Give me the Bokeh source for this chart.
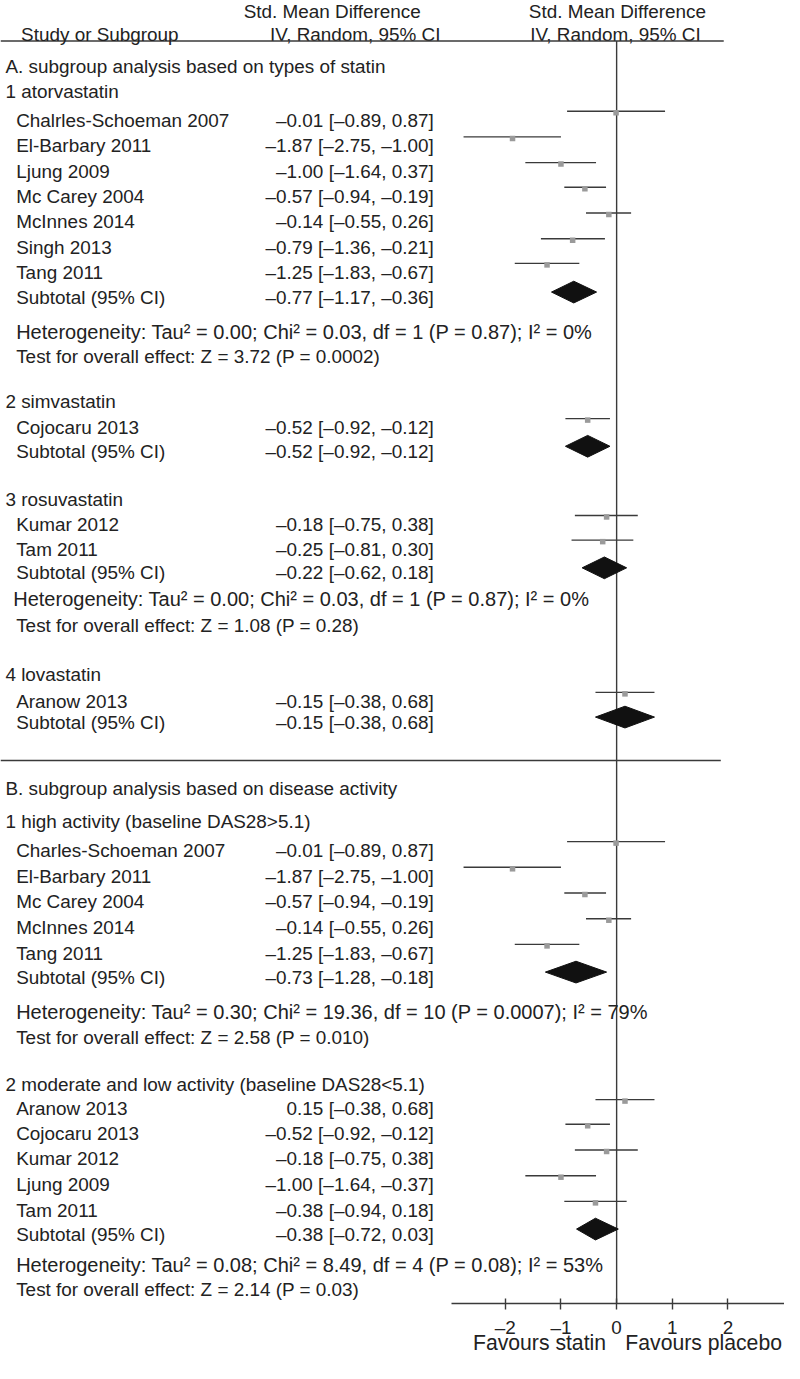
from bokeh.plotting import figure
from bokeh.models import Range1d, LinearAxis, FixedTicker, ColumnDataSource, CustomJSTickFormatter
from bokeh.embed import file_html
from bokeh.resources import INLINE
from bokeh.core.properties import value

# ---------------- data ----------------
sections = ["A. subgroup analysis based on types of statin",
            "B. subgroup analysis based on disease activity"]

g_titles = ["1 atorvastatin", "2 simvastatin", "3 rosuvastatin", "4 lovastatin",
            "1 high activity (baseline DAS28>5.1)", "2 moderate and low activity (baseline DAS28<5.1)"]

ator_names = ["Chalrles-Schoeman 2007", "El-Barbary 2011", "Ljung 2009", "Mc Carey 2004",
              "McInnes 2014", "Singh 2013", "Tang 2011"]
ator_est = [-0.01, -1.87, -1.00, -0.57, -0.14, -0.79, -1.25]
ator_lo = [-0.89, -2.75, -1.64, -0.94, -0.55, -1.36, -1.83]
ator_hi = [0.87, -1.00, -0.37, -0.19, 0.26, -0.21, -0.67]
ator_txt = ["–0.01 [–0.89, 0.87]", "–1.87 [–2.75, –1.00]", "–1.00 [–1.64, 0.37]",
            "–0.57 [–0.94, –0.19]", "–0.14 [–0.55, 0.26]", "–0.79 [–1.36, –0.21]",
            "–1.25 [–1.83, –0.67]"]

simv_names = ["Cojocaru 2013"]
simv_est = [-0.52]
simv_lo = [-0.92]
simv_hi = [-0.12]
simv_txt = ["–0.52 [–0.92, –0.12]"]

rosu_names = ["Kumar 2012", "Tam 2011"]
rosu_est = [-0.18, -0.25]
rosu_lo = [-0.75, -0.81]
rosu_hi = [0.38, 0.30]
rosu_txt = ["–0.18 [–0.75, 0.38]", "–0.25 [–0.81, 0.30]"]

lova_names = ["Aranow 2013"]
lova_est = [0.15]
lova_lo = [-0.38]
lova_hi = [0.68]
lova_txt = ["–0.15 [–0.38, 0.68]"]

high_names = ["Charles-Schoeman 2007", "El-Barbary 2011", "Mc Carey 2004", "McInnes 2014", "Tang 2011"]
high_est = [-0.01, -1.87, -0.57, -0.14, -1.25]
high_lo = [-0.89, -2.75, -0.94, -0.55, -1.83]
high_hi = [0.87, -1.00, -0.19, 0.26, -0.67]
high_txt = ["–0.01 [–0.89, 0.87]", "–1.87 [–2.75, –1.00]", "–0.57 [–0.94, –0.19]",
            "–0.14 [–0.55, 0.26]", "–1.25 [–1.83, –0.67]"]

mod_names = ["Aranow 2013", "Cojocaru 2013", "Kumar 2012", "Ljung 2009", "Tam 2011"]
mod_est = [0.15, -0.52, -0.18, -1.00, -0.38]
mod_lo = [-0.38, -0.92, -0.75, -1.64, -0.94]
mod_hi = [0.68, -0.12, 0.38, -0.37, 0.18]
mod_txt = ["0.15 [–0.38, 0.68]", "–0.52 [–0.92, –0.12]", "–0.18 [–0.75, 0.38]",
           "–1.00 [–1.64, –0.37]", "–0.38 [–0.94, 0.18]"]

sub_est = [-0.77, -0.52, -0.22, 0.15, -0.73, -0.38]
sub_lo = [-1.17, -0.92, -0.62, -0.38, -1.28, -0.72]
sub_hi = [-0.36, -0.12, 0.18, 0.68, -0.18, 0.03]
sub_txt = ["–0.77 [–1.17, –0.36]", "–0.52 [–0.92, –0.12]", "–0.22 [–0.62, 0.18]",
           "–0.15 [–0.38, 0.68]", "–0.73 [–1.28, –0.18]", "–0.38 [–0.72, 0.03]"]

het_txt = ["Heterogeneity: Tau² = 0.00; Chi² = 0.03, df = 1 (P = 0.87); I² = 0%", None,
           "Heterogeneity: Tau² = 0.00; Chi² = 0.03, df = 1 (P = 0.87); I² = 0%", None,
           "Heterogeneity: Tau² = 0.30; Chi² = 19.36, df = 10 (P = 0.0007); I² = 79%",
           "Heterogeneity: Tau² = 0.08; Chi² = 8.49, df = 4 (P = 0.08); I² = 53%"]
test_txt = ["Test for overall effect: Z = 3.72 (P = 0.0002)", None,
            "Test for overall effect: Z = 1.08 (P = 0.28)", None,
            "Test for overall effect: Z = 2.58 (P = 0.010)",
            "Test for overall effect: Z = 2.14 (P = 0.03)"]

tick_values = [-2, -1, 0, 1, 2]
favours = ["Favours statin", "Favours placebo"]
header_top = ["Std. Mean Difference", "Std. Mean Difference"]
header_bot = ["Study or Subgroup", "IV, Random, 95% CI", "IV, Random, 95% CI"]

groups = [
    (ator_names, ator_est, ator_lo, ator_hi, ator_txt),
    (simv_names, simv_est, simv_lo, simv_hi, simv_txt),
    (rosu_names, rosu_est, rosu_lo, rosu_hi, rosu_txt),
    (lova_names, lova_est, lova_lo, lova_hi, lova_txt),
    (high_names, high_est, high_lo, high_hi, high_txt),
    (mod_names, mod_est, mod_lo, mod_hi, mod_txt),
]

# ---------------- layout (reference pixel rows) ----------------
REF_W, REF_H = 800, 1379
W, H = 784, 1363
ZERO_PX, PX_UNIT = 628.7, 56.8


def dx(px):
    return (px - ZERO_PX) / PX_UNIT


sec_y = [67, 797]
g_title_y = [92, 406, 505, 682, 831, 1097]
g_rows_y = [[121, 147, 173, 198, 224, 250, 275], [432], [530, 555], [709],
            [860, 886, 912, 938, 964], [1121, 1146, 1172, 1198, 1224]]
g_sub_y = [300, 456, 579, 730, 988, 1248]
g_het_y = [335, None, 606, None, 1023, 1279]
g_het_x = [16, None, 13, None, 16, 16]
g_test_y = [360, None, 632, None, 1049, 1304]
AXIS_Y = 1318

FONT = value("Liberation Sans")
FS = value("18.9px")
FS_HET = value("20px")
TXT = "#222222"
LINE = "#3a3a3a"

p = figure(width=W, height=H, output_backend="svg", toolbar_location=None,
           x_range=Range1d(dx(0), dx(REF_W)), y_range=Range1d(REF_H, 0),
           x_axis_location=None, y_axis_location=None, min_border=0)
p.outline_line_color = None
p.xgrid.visible = False
p.ygrid.visible = False

lt_x, lt_y, lt_t = [], [], []      # left-aligned
rt_x, rt_y, rt_t = [], [], []      # right-aligned
ht_x, ht_y, ht_t = [], [], []      # heterogeneity lines
bars = dict(lo=[], hi=[], est=[], by=[], my=[])
dia_xs, dia_ys = [], []

for i, s in enumerate(sections):
    lt_x.append(dx(5)); lt_y.append(sec_y[i]); lt_t.append(s)

for gi, (names, est, lo, hi, txt) in enumerate(groups):
    lt_x.append(dx(5)); lt_y.append(g_title_y[gi]); lt_t.append(g_titles[gi])
    for k, nm in enumerate(names):
        y = g_rows_y[gi][k]
        lt_x.append(dx(16)); lt_y.append(y); lt_t.append(nm)
        rt_x.append(dx(442)); rt_y.append(y); rt_t.append(txt[k])
        bars["lo"].append(lo[k]); bars["hi"].append(hi[k]); bars["est"].append(est[k])
        bars["by"].append(y - 9); bars["my"].append(y - 7.5)
    ys = g_sub_y[gi]
    lt_x.append(dx(16)); lt_y.append(ys); lt_t.append("Subtotal (95% CI)")
    rt_x.append(dx(442)); rt_y.append(ys); rt_t.append(sub_txt[gi])
    cy = ys - 5
    dia_xs.append([sub_lo[gi], sub_est[gi], sub_hi[gi], sub_est[gi]])
    dia_ys.append([cy, cy - 11, cy, cy + 11])
    if het_txt[gi]:
        ht_x.append(dx(g_het_x[gi])); ht_y.append(g_het_y[gi]); ht_t.append(het_txt[gi])
        lt_x.append(dx(16)); lt_y.append(g_test_y[gi]); lt_t.append(test_txt[gi])

# header
lt_x.append(dx(21)); lt_y.append(34); lt_t.append(header_bot[0])
p.text(x=[dx(338.5), dx(629.5)], y=[11, 11], text=header_top, text_align="center",
       text_baseline="middle", text_font=FONT, text_font_size=FS, text_color=TXT)
p.text(x=[dx(362), dx(627.5)], y=[34, 34], text=header_bot[1:], text_align="center",
       text_baseline="middle", text_font=FONT, text_font_size=FS, text_color=TXT)

# rules
p.segment(x0=[dx(0), dx(0)], y0=[41, 769], x1=[dx(738), dx(735)], y1=[41, 769],
          line_color=LINE, line_width=1.5)
p.segment(x0=[0], y0=[41], x1=[0], y1=[AXIS_Y], line_color=LINE, line_width=1.4)

p.text(x=lt_x, y=lt_y, text=lt_t, text_align="left", text_baseline="middle",
       text_font=FONT, text_font_size=FS, text_color=TXT)
p.text(x=rt_x, y=rt_y, text=rt_t, text_align="right", text_baseline="middle",
       text_font=FONT, text_font_size=FS, text_color=TXT)
p.text(x=ht_x, y=ht_y, text=ht_t, text_align="left", text_baseline="middle",
       text_font=FONT, text_font_size=FS_HET, text_color=TXT)

src = ColumnDataSource(bars)
p.segment(x0="lo", y0="by", x1="hi", y1="by", source=src, line_color=LINE, line_width=1.4)
p.scatter(x="est", y="my", source=src, marker="square", size=5.5, fill_color="#9a9a9a",
          line_color=None)
p.patches(xs=dia_xs, ys=dia_ys, fill_color="#111111", line_color="#111111", line_width=1)

# axis
ax = LinearAxis(fixed_location=AXIS_Y, bounds=(dx(460), dx(REF_W)),
                ticker=FixedTicker(ticks=tick_values),
                formatter=CustomJSTickFormatter(code="return tick < 0 ? '\u2013' + Math.abs(tick) : String(tick)"))
ax.axis_line_color = LINE
ax.axis_line_width = 1.4
ax.major_tick_line_color = LINE
ax.major_tick_line_width = 1.4
ax.major_tick_in = 5
ax.major_tick_out = 6
ax.minor_tick_line_color = None
ax.major_label_standoff = 8
ax.major_label_text_font = "Liberation Sans"
ax.major_label_text_font_size = "18.9px"
ax.major_label_text_color = TXT
p.add_layout(ax, "below")

p.text(x=[dx(550), dx(717.5)], y=[1358, 1358], text=favours, text_align="center",
       text_baseline="middle", text_font=FONT, text_font_size=value("21.2px"), text_color=TXT)

open("out.html", "w").write(file_html(p, INLINE))
